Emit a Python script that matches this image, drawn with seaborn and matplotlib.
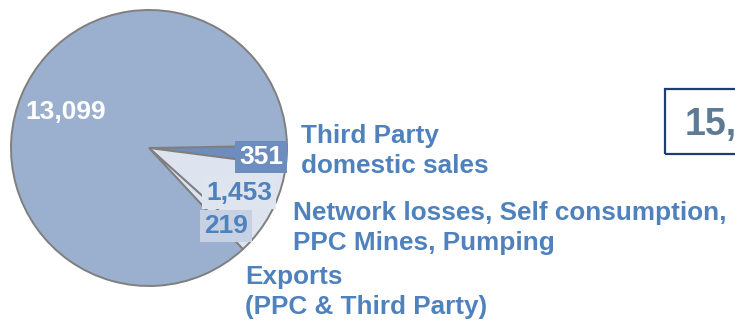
import matplotlib
matplotlib.use("Agg")
import matplotlib.pyplot as plt
from matplotlib.patches import Rectangle
import seaborn as sns

# Electricity balance (GWh)
categories = ["Third Party domestic sales",
              "Network losses, Self consumption, PPC Mines, Pumping",
              "Exports (PPC & Third Party)",
              "PPC domestic sales"]
values = [351, 1453, 219, 13099]
value_labels = ["351", "1,453", "219", "13,099"]
total_label = f"{sum(values):,}"

sns.set_theme(style="white")
plt.rcParams["font.family"] = ["Liberation Sans", "DejaVu Sans"]

W, H = 735, 320
fig = plt.figure(figsize=(W / 100, H / 100), dpi=100)


def fx(x, y):
    """Pixel position (from top-left) to figure fraction."""
    return x / W, 1 - y / H


slice_colors = sns.color_palette(["#6c8dbe", "#dde4ef", "#dde4ef", "#9bb0ce"])
edge_grey = "#7f7f7f"
label_blue = "#4f81bd"

# pie
cx, cy, r = 149, 148, 138
ax = fig.add_axes([(cx - r) / W, (H - cy - r) / H, 2 * r / W, 2 * r / H])
wedges, _ = ax.pie(values, colors=slice_colors, startangle=1, counterclock=False,
                   wedgeprops=dict(edgecolor=edge_grey, linewidth=1.4))
for w in wedges:
    w.set_clip_on(False)
ax.set_xlim(-1, 1)
ax.set_ylim(-1, 1)
ax.set_axis_off()

# value labels
fs_val = 19
value_pos = [(261, 157), (239, 193), (226, 226), (66, 112)]
value_style = [
    dict(color="white", bbox=dict(boxstyle="square,pad=0.15", fc="#6c8dbe", ec="none")),
    dict(color=label_blue, bbox=dict(boxstyle="square,pad=0.15", fc="#dfe5ef", ec="none")),
    dict(color=label_blue, bbox=dict(boxstyle="square,pad=0.15", fc="#c6d1e3", ec="none")),
    dict(color="white"),
]
for txt, (x, y), st in zip(value_labels, value_pos, value_style):
    fig.text(*fx(x, y), txt, ha="center", va="center", fontsize=fs_val,
             fontweight="bold", **st)

# category labels, one text per line
fs_cat = 18.8
cat_lines = [
    (301, 143, "Third Party"),
    (301, 173, "domestic sales"),
    (293, 220, "Network losses, Self consumption,"),
    (293, 250, "PPC Mines, Pumping"),
    (245, 284, "Exports"),
    (245, 314, "(PPC & Third Party)"),
]
for x, y, txt in cat_lines:
    fig.text(*fx(x, y), txt, ha="left", va="baseline", fontsize=fs_cat,
             fontweight="bold", color=label_blue)

# total box
x0, y0 = fx(665, 154)
fig.patches.append(Rectangle((x0, y0), 200 / W, 65 / H, transform=fig.transFigure,
                             fill=False, edgecolor="#1f3c7a", linewidth=1.6))
fig.text(*fx(685, 135), total_label, ha="left", va="baseline", fontsize=27,
         fontweight="bold", color="#5d7b95")

fig.savefig("out.png", dpi=100)
